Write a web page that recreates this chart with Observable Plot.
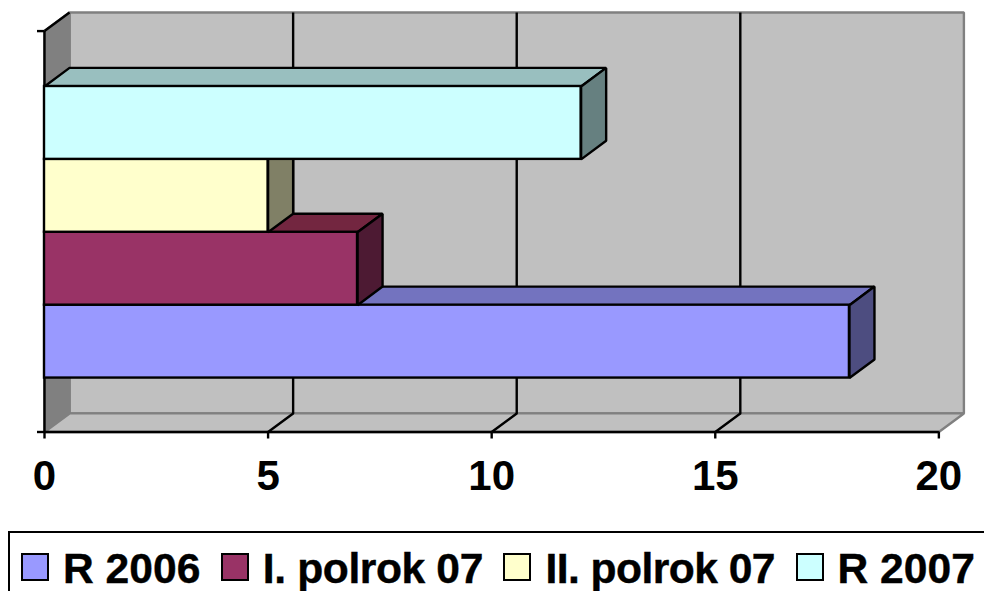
<!DOCTYPE html>
<html>
<head>
<meta charset="utf-8">
<script src="https://cdn.jsdelivr.net/npm/d3@7"></script>
<script src="https://cdn.jsdelivr.net/npm/@observablehq/plot@0.6"></script>
<style>
html,body{margin:0;padding:0;background:#fff;overflow:hidden;}
svg{display:block;}
svg text{-webkit-text-stroke:0.4px #000;}
#legend{box-sizing:border-box;position:absolute;left:8px;top:531px;width:990px;height:80px;border:2px solid #000;
  display:flex;align-items:flex-start;padding:19px 0 0 11px;font:bold 42.6px "Liberation Sans",Arial,sans-serif;color:#000;line-height:36px;white-space:nowrap;-webkit-text-stroke:0.4px #000;}
#legend .sw{box-sizing:border-box;width:28px;height:28px;border:2px solid #000;margin:1px 14px 0 0;flex:none;}
#legend .it{display:flex;margin-right:20.5px;}
#legend .it span{position:relative;top:-2px;}
#legend .it:nth-child(2) span{letter-spacing:-0.4px;}
#legend .it:nth-child(3) span{letter-spacing:-0.55px;}
</style>
</head>
<body>
<div id="chart"></div>
<div id="legend"></div>
<script>
const names = ["R 2006", "I. polrok 07", "II. polrok 07", "R 2007"];
const values = [18, 7, 5, 12];
const frontColors = ["#9999FF", "#993366", "#FFFFCC", "#CCFFFF"];
const topColors = ["#7373BF", "#732640", "#BFBF99", "#99BFBF"];
const sideColors = ["#4D4D80", "#4D1A33", "#808066", "#668080"];
const xTicks = [0, 5, 10, 15, 20];
const gridValues = [5, 10, 15];

const depthX = 0.56, depthY = 0.255;
const xMax = 20, yTop = 5.5, barStart = 0.74;
const lineW = 2.4;

const poly = (pts, fill, stroke, sw = lineW) =>
  Plot.line([...pts, pts[0]], {fill, stroke, strokeWidth: sw, strokeLinejoin: "miter", strokeLinecap: "butt"});
const seg = (pts, stroke = "#000", sw = lineW) =>
  Plot.line(pts, {stroke, strokeWidth: sw, strokeLinecap: "butt"});

const marks = [
  // back wall
  poly([[depthX, depthY], [xMax + depthX, depthY], [xMax + depthX, yTop + depthY], [depthX, yTop + depthY]], "#C0C0C0", "#808080"),
  // left wall
  poly([[0, 0], [depthX, depthY], [depthX, yTop + depthY], [0, yTop]], "#808080", "#808080"),
  // floor
  poly([[0, 0], [xMax, 0], [xMax + depthX, depthY], [depthX, depthY]], "#C0C0C0", "#808080"),
  // grid
  ...gridValues.map(v => seg([[v, 0], [v + depthX, depthY], [v + depthX, yTop + depthY]])),
  // axes
  seg([[0, yTop], [depthX, yTop + depthY]]),
  seg([[0, 0], [0, yTop]]),
  seg([[0, 0], [xMax, 0]]),
  Plot.axisY([0, yTop], {tickSize: 7, tickFormat: () => "", strokeWidth: lineW, stroke: "#000", label: null}),
  Plot.axisX(xTicks, {tickSize: 7, tickPadding: 21, fontSize: 42, fontWeight: "bold", strokeWidth: lineW, stroke: "#000", fill: "#000", anchor: "bottom", label: null}),
];

values.forEach((v, i) => {
  const y1 = barStart + i, y2 = y1 + 1;
  marks.push(
    poly([[0, y2], [v, y2], [v + depthX, y2 + depthY], [depthX, y2 + depthY]], topColors[i], "#000"),
    poly([[v, y1], [v + depthX, y1 + depthY], [v + depthX, y2 + depthY], [v, y2]], sideColors[i], "#000"),
    Plot.rect([{v, y1, y2}], {x1: 0, x2: "v", y1: "y1", y2: "y2", fill: frontColors[i], stroke: "#000", strokeWidth: lineW})
  );
});

const plot = Plot.plot({
  width: 984,
  height: 531,
  marginLeft: 44,
  marginRight: 20.6,
  marginTop: 12,
  marginBottom: 99.5,
  x: {domain: [0, xMax + depthX]},
  y: {domain: [0, yTop + depthY]},
  style: {fontFamily: "'Liberation Sans', Arial, sans-serif", background: "#fff", color: "#000"},
  marks
});
document.getElementById("chart").append(plot);

const legend = document.getElementById("legend");
names.forEach((n, i) => {
  const it = document.createElement("div");
  it.className = "it";
  const sw = document.createElement("div");
  sw.className = "sw";
  sw.style.background = frontColors[i];
  const t = document.createElement("span");
  t.textContent = n;
  it.append(sw, t);
  legend.append(it);
});
</script>
</body>
</html>
